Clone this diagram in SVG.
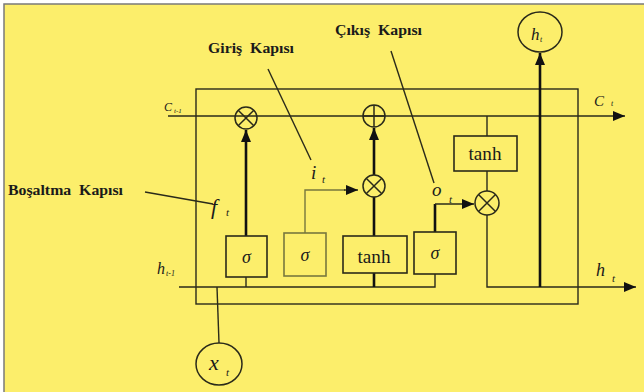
<svg xmlns="http://www.w3.org/2000/svg" width="644" height="392" viewBox="0 0 644 392">
<defs>
<marker id="ah" markerUnits="userSpaceOnUse" markerWidth="13" markerHeight="11" refX="12" refY="5" orient="auto"><path d="M0,0 L12,5 L0,10 z" fill="#111"/></marker>
<style>
.ln{fill:none;stroke:#2a2a1a;stroke-width:1.4}
.tk{fill:none;stroke:#111;stroke-width:2.6}
.lt{fill:none;stroke:#77773e;stroke-width:1.4}
.box{fill:none;stroke:#2a2a1a;stroke-width:1.6}
.op{fill:none;stroke:#2a2a1a;stroke-width:1.5}
.m{font-family:"Liberation Serif","Times New Roman",serif;font-style:italic;fill:#1a1a1a}
.lbl{font-family:"Liberation Serif","Times New Roman",serif;font-weight:bold;font-size:15px;fill:#1a1a1a;white-space:pre}
.fn{font-family:"Liberation Serif","Times New Roman",serif;font-size:18px;fill:#1a1a1a;text-anchor:middle}
</style>
</defs>
<rect x="0" y="0" width="644" height="392" fill="#ffffff"/>
<rect id="bg" x="4" y="4" width="650" height="400" fill="#fcee6b" stroke="#7a7a7a" stroke-width="1.5"/>
<g id="cell"><rect x="196" y="89" width="382" height="215" class="ln"/></g>
<g id="connectors">
<path class="ln" d="M168,116 H625" marker-end="url(#ah)"/>
<path class="tk" d="M246,236 V130" marker-end="url(#ah)"/>
<path class="ln" d="M246,277 V287"/>
<path class="ln" d="M179,287 H435 V274"/>
<path class="tk" d="M374,273 V287"/>
<path class="tk" d="M374,236 V197"/>
<path class="tk" d="M374,175 V128" marker-end="url(#ah)"/>
<path class="lt" d="M305,233 V190 H345"/>
<path class="ln" d="M344,190 H358" marker-end="url(#ah)"/>
<path class="tk" d="M435,232 V204"/>
<path class="ln" d="M435,204 H474" marker-end="url(#ah)"/>
<path class="ln" d="M487,116 V136"/>
<path class="ln" d="M487,171 V191"/>
<path class="ln" d="M487,215 V287 H636" marker-end="url(#ah)"/>
<path class="tk" d="M540,287 V53" marker-end="url(#ah)"/>
<path class="ln" d="M217,287 L219,343"/>
<path class="ln" d="M145,192 L213,204"/>
<path class="ln" d="M268,69 L311,160"/>
<path class="ln" d="M391,51 L434,183"/>
</g>
<g id="mul-forget"><circle cx="246" cy="118" r="11" class="op" fill="#fcee6b"/><path class="op" d="M238.2,110.2 L253.8,125.8 M253.8,110.2 L238.2,125.8"/></g>
<g id="add-cell"><circle cx="374" cy="116" r="11" class="op" fill="#fcee6b"/><path class="op" d="M363,116 H385 M374,105 V127"/></g>
<g id="mul-input"><circle cx="374" cy="186" r="11" class="op" fill="#fcee6b"/><path class="op" d="M366.2,178.2 L381.8,193.8 M381.8,178.2 L366.2,193.8"/></g>
<g id="mul-output"><circle cx="487" cy="203" r="12" class="op" fill="#fcee6b"/><path class="op" d="M478.5,194.5 L495.5,211.5 M495.5,194.5 L478.5,211.5"/></g>
<g id="sigma-f"><rect x="226" y="236" width="41" height="41" class="box" stroke-width="2"/><text x="246.5" y="263" class="fn" font-size="20" font-style="italic">σ</text></g>
<g id="sigma-i"><rect x="284" y="233" width="42" height="43" fill="none" stroke="#77773e" stroke-width="1.6"/><text x="305" y="261" class="fn" font-size="20" font-style="italic" fill="#333">σ</text></g>
<g id="tanh-c"><rect x="343" y="236" width="64" height="37" class="box"/><text x="374" y="263" class="fn" font-size="19" textLength="33" lengthAdjust="spacingAndGlyphs">tanh</text></g>
<g id="sigma-o"><rect x="414" y="232" width="42" height="42" class="box"/><text x="435" y="259" class="fn" font-size="20" font-style="italic">σ</text></g>
<g id="tanh-h"><rect x="454" y="136" width="63" height="35" class="box"/><text x="485" y="160" class="fn" font-size="19" textLength="33" lengthAdjust="spacingAndGlyphs">tanh</text></g>
<g id="ht-out"><ellipse cx="540" cy="32" rx="22" ry="20" class="op" fill="#fcee6b"/><text x="531" y="40" class="m" font-size="17">h</text><text x="540" y="42" class="m" font-size="8">t</text></g>
<g id="xt-in"><ellipse cx="219" cy="364" rx="23" ry="21" class="op" fill="#fcee6b"/><text x="209" y="370" class="m" font-size="22">x</text><text x="226" y="376" class="m" font-size="11">t</text></g>
<g id="labels">
<text x="164" y="111" class="m" font-size="12">C</text><text x="174" y="113" class="m" font-size="7">t-1</text>
<text x="594" y="106" class="m" font-size="15">C</text><text x="611" y="106" class="m" font-size="8">t</text>
<text x="157" y="274" class="m" font-size="16">h</text><text x="166" y="276" class="m" font-size="8">t-1</text>
<text x="596" y="276" class="m" font-size="18">h</text><text x="612" y="282" class="m" font-size="11">t</text>
<text x="311" y="179" class="m" font-size="19">i</text><text x="322" y="183" class="m" font-size="11">t</text>
<text x="432" y="196" class="m" font-size="19">o</text><text x="449" y="203" class="m" font-size="11">t</text>
<text x="211" y="214" class="m" font-size="22">f</text><text x="226" y="216" class="m" font-size="11">t</text>
<text x="208" y="53" class="lbl" textLength="86" lengthAdjust="spacingAndGlyphs">Giriş  Kapısı</text>
<text x="335" y="35" class="lbl" textLength="87" lengthAdjust="spacingAndGlyphs">Çıkış  Kapısı</text>
<text x="8" y="195" class="lbl" textLength="115" lengthAdjust="spacingAndGlyphs">Boşaltma  Kapısı</text>
</g>
</svg>
